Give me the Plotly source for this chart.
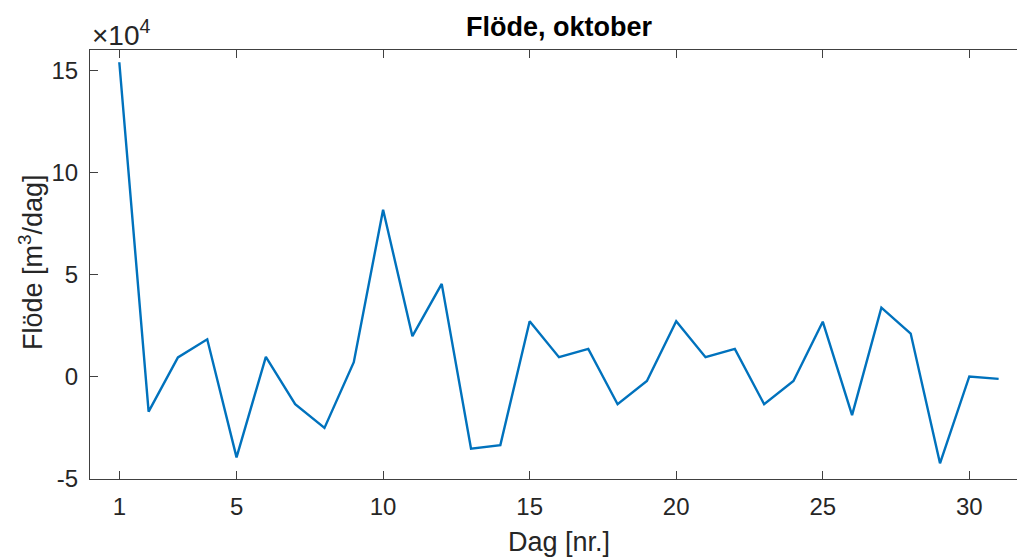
import plotly.graph_objects as go

# Daily flow for October (m3/day)
days = list(range(1, 32))
flow = [154000, -17000, 9500, 18400, -39400, 9800, -13400, -25000, 7200, 81800,
        19900, 45500, -35200, -33400, 27200, 9600, 13700, -13400, -2000, 27200,
        9600, 13700, -13400, -2000, 27000, -18700, 33900, 21200, -42300, 200,
        -1000]

x_ticks = [1, 5, 10, 15, 20, 25, 30]
y_ticks = [-50000, 0, 50000, 100000, 150000]
y_tick_labels = ["-5", "0", "5", "10", "15"]

title_text = "Flöde, oktober"
x_label = "Dag [nr.]"
y_label = "Flöde [m<sup>3</sup>/dag]"
exponent_text = "×10<sup>4</sup>"

W, H = 1017, 557
ML, MR, MT, MB = 90, 0, 50, 78
FONT = "Liberation Sans, Arial, Helvetica, sans-serif"
INK = "#262626"
AXC = "#404040"

fig = go.Figure()
fig.add_trace(go.Scatter(x=days, y=flow, mode="lines",
                         line=dict(color="#0072BD", width=2.4),
                         showlegend=False, hoverinfo="x+y"))

plot_w = W - ML - MR
plot_h = H - MT - MB
# axes span x = 0..32; the right part runs past the page edge
x_unit = (969 - 119) / 29.0
x_right = (W - ML) / x_unit

def px_to_paper_x(p):
    return (p - ML) / plot_w

def px_to_paper_y(q):
    return (H - MB - q) / plot_h

fig.update_layout(
    width=W, height=H,
    margin=dict(l=ML, r=MR, t=MT, b=MB),
    paper_bgcolor="white", plot_bgcolor="white",
    font=dict(family=FONT, color=INK, size=24),
    xaxis=dict(range=[0, x_right], tickvals=x_ticks, ticktext=[str(v) for v in x_ticks],
               ticks="inside", ticklen=8, tickwidth=1, tickcolor=AXC,
               showline=True, linecolor=AXC, linewidth=1, mirror="ticks",
               showgrid=False, zeroline=False, ticklabelstandoff=6,
               tickfont=dict(size=24, color=INK)),
    yaxis=dict(range=[-50000, 160000], tickvals=y_ticks, ticktext=y_tick_labels,
               ticks="inside", ticklen=8, tickwidth=1, tickcolor=AXC,
               showline=True, linecolor=AXC, linewidth=1, mirror=False,
               showgrid=False, zeroline=False, ticklabelstandoff=6,
               tickfont=dict(size=24, color=INK)),
    title=dict(text="<b>" + title_text + "</b>", xref="container", yref="container",
               x=559 / W, y=1 - 27 / H, xanchor="center", yanchor="middle",
               font=dict(size=27, color="black", family=FONT)),
)

fig.add_annotation(text=x_label, xref="paper", yref="paper",
                   x=px_to_paper_x(559), y=px_to_paper_y(542),
                   xanchor="center", yanchor="middle", showarrow=False,
                   font=dict(size=27, color=INK))
fig.add_annotation(text=y_label, xref="paper", yref="paper",
                   x=px_to_paper_x(31), y=px_to_paper_y(262),
                   xanchor="center", yanchor="middle", textangle=-90,
                   showarrow=False, font=dict(size=27, color=INK))
fig.add_annotation(text=exponent_text, xref="paper", yref="paper",
                   x=px_to_paper_x(90), y=px_to_paper_y(33),
                   xanchor="left", yanchor="middle", showarrow=False,
                   font=dict(size=28, color=INK))

fig.write_html("out.html")
